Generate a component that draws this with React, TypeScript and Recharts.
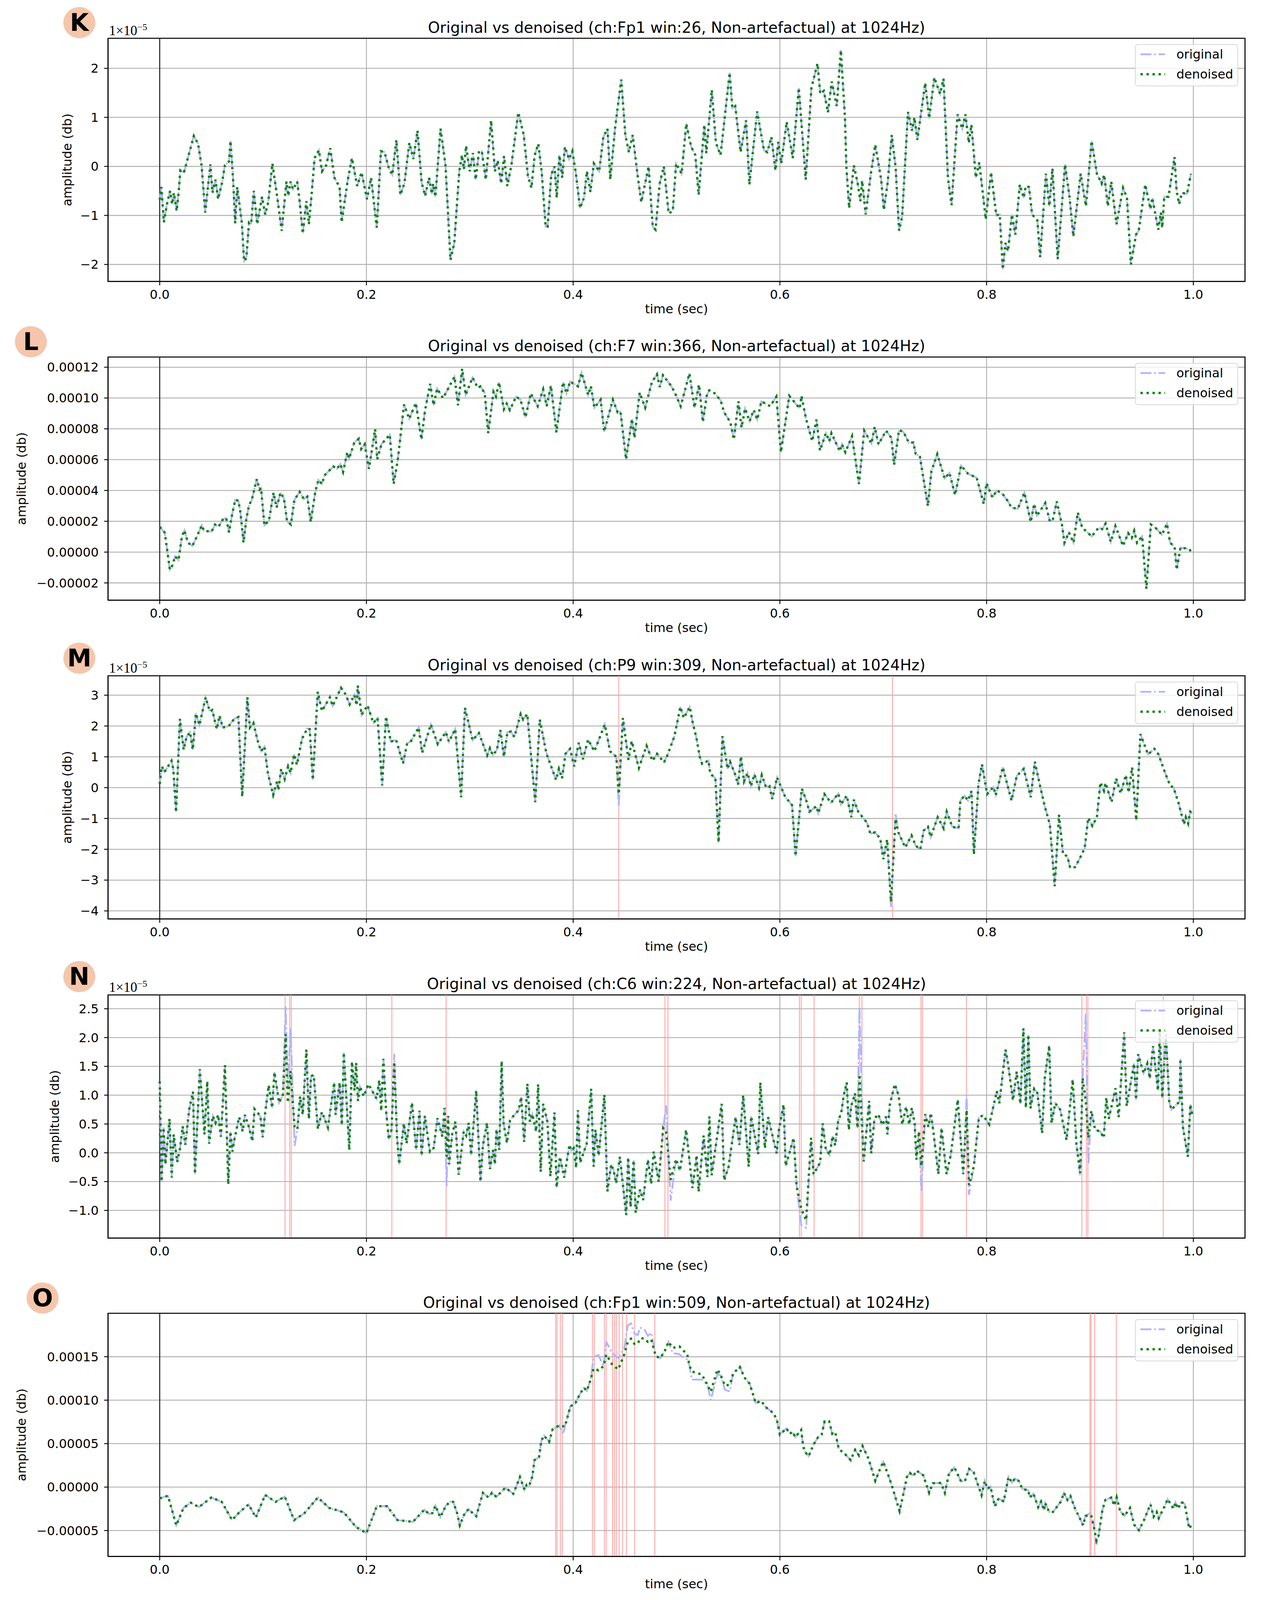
import { CartesianGrid, Legend, Line, LineChart, ReferenceArea, ReferenceLine, XAxis, YAxis } from "recharts";

type Pair = [number, number];

// every amplitude below is in units of 1e-5, [time, amplitude]
const kDenoised: Pair[] = [
  [0,-.68],[.0016,-.42],[.004,-1.14],[.007,-.77],[.01,-.5],[.012,-.77],[.0137,-.54],[.0164,-.91],[.0182,-.55],[.02,-.08],[.0235,-.12],[.033,.62],[.037,.47],[.0405,.02],[.044,-.94],[.049,.04],[.051,-.54],[.054,-.27],[.0565,-.67],[.0605,-.31],[.063,.02],[.067,.1],[.0685,.52],[.071,-.27],[.073,-1.16],[.075,-.42],[.0795,-1.16],[.0816,-1.93],[.0838,-1.87],[.0864,-1.14],[.0885,-1.16],[.091,-.5],[.0943,-1.18],[.099,-.62],[.102,-.98],[.105,-.73],[.109,.06],[.1135,-.6],[.118,-1.31],[.1226,-.31],[.1244,-.6],[.1265,-.31],[.129,-.47],[.133,-.31],[.135,-.64],[.1384,-1.37],[.1419,-.71],[.1443,-1.18],[.147,-.56],[.1498,.17],[.154,.33],[.157,-.1],[.161,.02],[.165,.37],[.169,-.23],[.174,-.42],[.176,-1.14],[.182,-.27],[.186,.17],[.191,-.4],[.1953,-.12],[.2005,-.67],[.2045,-.23],[.21,-1.25],[.214,.31],[.2175,.29],[.2217,-.04],[.225,-.17],[.229,.54],[.2328,-.58],[.2367,-.35],[.2415,.48],[.2454,.15],[.2494,.73],[.2534,-.33],[.2568,-.6],
  [.2606,-.23],[.2632,-.56],[.2645,-.35],[.2667,-.62],[.2717,.77],[.2765,.02],[.2813,-1.91],[.285,-1.56],[.2898,-.1],[.2924,.23],[.2943,-.06],[.2964,.42],[.2999,-.1],[.303,.27],[.3057,-.27],[.3089,.31],[.3116,.31],[.3155,-.27],[.3206,.94],[.3243,-.1],[.327,.12],[.3304,-.35],[.3331,.21],[.3363,-.4],[.3402,.02],[.3469,1.1],[.3522,.64],[.3562,-.19],[.3596,-.44],[.3628,.23],[.3663,.46],[.3695,-.1],[.3734,-1.23],[.3753,-1.23],[.3788,-.17],[.382,0],[.3841,-.64],[.3867,.23],[.3894,-.23],[.392,.4],[.396,.15],[.3992,.31],[.4027,-.15],[.4066,-.85],[.4105,-.64],[.4133,-.1],[.4167,-.52],[.42,.06],[.4252,-.1],[.4292,.6],[.4332,.77],[.4359,-.27],[.4406,.79],[.4465,1.77],[.4505,.64],[.4539,.29],[.4576,.64],[.4624,-.19],[.4659,-.73],[.473,0],[.477,-1.23],[.4797,-1.29],[.4837,-.35],[.4877,0],[.4924,-.96],[.4964,-.91],[.4996,.06],[.5049,-.15],[.5094,.87],[.5142,.4],[.5182,.23],[.5214,-.58],[.5269,.85],[.5288,.27],[.5341,1.56],[.5381,.48],[.5426,.23],[.5514,1.91],[.554,1.19],[.5568,1.23],[.562,.29],[.5673,.94],[.5705,-.37],[.578,1.12],[.5846,.33],[.5878,.29],[.5918,.6],[.5957,-.08],[.5984,.5],[.6013,.06],[.6066,.91],[.6125,.17],[.6183,1.6],[.625,-.27],[.6305,1.6],[.6364,2.1],[.6391,1.48],[.6425,1.54],[.6465,1.1],[.6502,1.73],[.655,1.23],[.659,2.37],[.663,.98],[.6643,0],[.667,-.85],
  [.6716,.02],[.6753,-.35],[.6779,-.71],[.6796,-.29],[.683,-.98],[.688,-.15],[.6923,.44],[.698,-.27],[.7006,-.89],[.7044,-.31],[.7082,.64],[.712,-.02],[.7153,-1.31],[.7183,-1.02],[.7239,1.11],[.7279,.73],[.7302,1],[.733,.54],[.7406,1.7],[.7444,.98],[.7494,1.81],[.755,1.48],[.7583,1.79],[.7626,-.23],[.7661,-.79],[.7719,1.06],[.7765,.77],[.7795,1.06],[.7828,.48],[.7853,.85],[.7896,-.23],[.7929,.08],[.7992,-1.08],[.8043,-.12],[.8094,-1],[.8127,-.98],[.8157,-2.1],[.8182,-1.56],[.8207,-1.73],[.8245,-.98],[.8278,-1.39],[.8321,-.37],[.8359,-.64],[.8379,-.4],[.841,-.42],[.844,-.98],[.8491,-1.1],[.8518,-1.85],[.8574,-.15],[.8607,-.81],[.8637,-.04],[.8688,-1.89],[.8759,.04],[.8802,-.62],[.8839,-1.43],[.891,-.15],[.8961,-.81],[.9016,.52],[.9067,-.15],[.9113,-.35],[.9138,-.17],[.9173,-.81],[.9206,-.31],[.9257,-1.18],[.932,-.44],[.9358,-.64],[.9396,-2],[.9446,-1.39],[.9472,-1.31],[.9535,-.37],[.9585,-.87],[.9603,-.64],[.9661,-1.29],[.9686,-.94],[.9699,-1.25],[.9719,-.62],[.976,-.62],[.9818,.19],[.9838,-.5],[.9863,-.77],[.9889,-.54],[.9939,-.56],[.9977,-.15],
];

const lDenoised: Pair[] = [
  [0,1.64],[.0047,1.28],[.0057,.87],[.0098,-1.14],[.0125,-.84],[.0148,-.27],[.0182,-.51],[.0215,1.02],[.0239,1.41],[.0273,.61],[.0316,.4],[.036,1.02],[.0407,1.74],[.0428,1.38],[.0502,1.33],[.0535,1.79],[.0569,1.64],[.0613,2.15],[.0643,2.21],[.067,1.28],[.0704,2.57],[.0731,3.39],[.0761,3.34],[.0781,2.57],[.0811,.61],[.0838,2.15],[.0865,3.08],[.0889,3.34],[.0939,4.73],[.0966,4.06],[.098,4.16],[.1013,1.74],[.1057,2.05],[.1101,3.86],[.1131,2.88],[.1168,3.86],[.1202,3.49],[.1232,2],[.1269,1.79],[.1303,3.39],[.1354,3.91],[.1394,3.44],[.1428,3.6],[.1461,1.95],[.1505,3.91],[.1535,4.68],[.1569,4.42],[.1596,4.99],[.168,5.56],[.1714,5.4],[.1747,5.71],[.1774,5.2],[.1815,6.48],[.1832,6.07],[.1882,7.1],[.1926,7.36],[.1949,6.69],[.1983,7],[.2024,5.4],[.2084,7.98],[.2104,6.02],[.2145,7],[.2226,7.62],[.2263,4.42],[.2303,5.97],[.2364,9.58],[.2414,8.65],[.2478,9.68],[.2532,7.31],[.2566,9.16],[.2616,10.92],[.265,9.53],[.2684,10.61],[.2741,9.99],[.2852,11.38],[.2886,9.53],[.2926,11.9],[.296,10.2],[.3027,11.33],[.3077,10.66],[.3104,10.76],[.3145,10.3],[.3178,7.72],[.3229,10.4],[.3253,10.09],[.3283,11.02],[.333,9.27],[.3357,9.63],[.3387,9.22],[.3448,10.09],[.349,9.89],[.3539,8.75],[.359,10.3],[.3657,9.47],[.371,10.56],[.3744,9.47],[.3785,10.81],[.3838,7.77],[.3902,11.02],[.3936,10.3],[.397,11.07],[.4047,10.76],[.4081,11.64],[.4145,10.2],[.4172,10.76],[.4205,9.37],[.4266,9.89],[.43,7.82],[.4384,9.89],[.4431,9.06],[.4458,9.11],[.4512,6.02],[.4569,8.65],[.4593,7.41],[.4643,10.35],[.4697,9.37],[.4761,11.02],[.4811,11.54],[.4838,10.71],[.4869,11.48],[.4946,10.81],[.498,10.4],[.504,9.47],[.5125,11.59],
  [.5174,9.37],[.5218,10.87],[.5255,8.44],[.5292,10.14],[.5316,10.5],[.537,10.3],[.5427,9.84],[.5461,9.06],[.552,8.44],[.5555,7.31],[.5599,9.78],[.5629,8.08],[.5663,9.32],[.5707,8.49],[.5747,9.22],[.5781,8.6],[.5821,9.78],[.5906,9.47],[.5966,10.09],[.601,6.48],[.6091,10.14],[.6192,9.32],[.6209,10.14],[.6253,8.65],[.6313,7.2],[.6354,8.6],[.6388,6.59],[.6445,7.72],[.6479,7.2],[.6499,7.72],[.658,6.54],[.66,7],[.6634,6.48],[.6698,7.52],[.6765,4.42],[.6816,7.88],[.6886,7.05],[.6917,8.13],[.6954,7],[.7028,7.88],[.7079,7.41],[.7105,5.66],[.7153,7.93],[.7197,7.78],[.7247,7.11],[.7291,7.11],[.7314,6.38],[.7355,6.18],[.7432,2.98],[.7466,5.25],[.7523,6.36],[.7594,4.78],[.7641,5.14],[.7695,3.7],[.7753,5.61],[.782,5.09],[.7904,4.83],[.7972,3.13],[.7999,4.47],[.8056,3.55],[.81,4.01],[.8157,3.75],[.8208,3.29],[.8241,2.88],[.8302,2.82],[.8366,3.86],[.8427,1.95],[.846,3.13],[.8487,2.36],[.8568,3.19],[.8612,2],[.8639,2.05],[.8679,3.29],[.873,1.74],[.8753,.61],[.8797,1.28],[.8841,.61],[.8882,2.57],[.8925,1.59],[.9017,1.02],[.9084,1.59],[.9118,1.49],[.9151,1.85],[.9202,.66],[.9246,1.69],[.932,.4],[.937,1.23],[.9404,.92],[.9428,1.38],[.9455,.61],[.9505,1.02],[.9546,-2.38],[.9589,1.79],[.964,1.54],[.9697,1.12],[.9745,1.85],[.9775,.61],[.9819,.35],[.9839,-1.14],[.9876,.3],[.996,.2],[.9994,-.11],
];

const mDenoised: Pair[] = [
  [0,.12],[.002,.69],[.0047,.51],[.0114,.87],[.0131,.61],[.0158,-.8],[.0195,2.23],[.0232,1.23],[.0259,1.64],[.0293,1.8],[.032,1.23],[.035,2.41],[.0384,2.03],[.0444,2.93],[.0485,2.47],[.0508,2.52],[.0552,1.9],[.0579,2.34],[.0609,1.95],[.0663,1.98],[.0721,2.23],[.0761,2.29],[.0798,-.29],[.0848,2.93],[.0872,1.95],[.0906,2.1],[.0946,1.54],[.098,1.18],[.1013,1.33],[.1047,.46],[.1098,-.24],[.1135,.2],[.1148,-.08],[.1175,.61],[.1209,.28],[.1242,.69],[.1266,.48],[.13,1.08],[.1327,.74],[.1377,1.59],[.1428,1.92],[.1451,1.9],[.1481,.25],[.1529,3.11],[.1569,2.49],[.1646,2.93],[.1673,2.65],[.1754,3.24],[.1798,3.03],[.1838,2.7],[.1882,3.01],[.1906,2.67],[.1916,3.31],[.1953,2.36],[.201,2.67],[.2067,2.1],[.2108,2.26],[.2152,.07],[.2189,2.31],[.2236,1.49],[.2286,1.56],[.2354,.79],[.2394,1.44],[.2431,1.51],[.2505,1.95],[.2539,1.13],[.2623,2.05],[.269,1.41],[.2768,1.8],[.2798,1.49],[.2859,1.9],[.2916,-.31],[.2953,2.59],[.3027,1.54],[.3088,1.77],[.3168,1.05],[.3195,1.28],[.3222,1.05],[.3263,1.23],[.3296,1.87],[.333,1],[.3364,1.8],[.3397,1.82],[.3431,1.64],[.3492,2.39],[.3516,2.21],[.3556,2.39],[.3633,-.47],[.3677,2.21],[.3734,1.23],[.3751,1.02],[.3835,.25],[.3862,.61],[.3892,.3],[.3926,1.1],[.397,1.26],[.401,.69],[.4054,1.46],[.4094,.92],[.4145,1.56],[.4205,1.18],[.4306,2.05],[.4357,1.18],[.4418,1],[.4441,-.21],[.4481,2.26],[.4535,.9],[.4566,1.51],[.4636,.64],[.471,1.36],[.4768,.87],[.4811,1.1],[.4879,.82],[.4912,1.05],[.498,1.67],[.5037,2.62],[.507,2.26],[.5128,2.62],
  [.5157,2.1],[.5191,1.64],[.5225,1],[.5248,.77],[.5309,.88],[.5326,.46],[.5376,.3],[.5407,-1.78],[.5444,1.67],[.5494,.61],[.5518,.84],[.5562,.48],[.5596,.1],[.5623,1.02],[.5653,.2],[.5687,.48],[.572,.05],[.5754,.43],[.5798,0],[.5825,.41],[.5865,.02],[.5899,.05],[.5926,-.37],[.5973,.33],[.605,-.29],[.6118,-.57],[.6152,-2.22],[.6212,-.03],[.6253,-.39],[.6286,-.78],[.6354,-.6],[.6371,-.83],[.6431,-.21],[.6495,-.49],[.6566,-.19],[.659,-.55],[.6647,-.26],[.6691,-.96],[.6715,-.39],[.6758,-.78],[.6843,-1.14],[.6876,-1.5],[.692,-1.45],[.6971,-1.65],[.7001,-2.32],[.7038,-1.68],[.7075,-3.71],[.7119,-1.01],[.7146,-1.45],[.7213,-1.94],[.7274,-1.55],[.7314,-1.88],[.7358,-2.01],[.7392,-1.39],[.7432,-1.27],[.7459,-1.6],[.7527,-.96],[.7584,-1.32],[.7614,-.78],[.7668,-1.27],[.7729,-1.32],[.7746,-.42],[.7786,-.26],[.782,-.42],[.7854,-.11],[.7877,-2.17],[.7921,.1],[.7955,.76],[.8005,-.21],[.8066,.02],[.8089,-.24],[.8157,.66],[.8241,-.42],[.8292,.38],[.8359,.61],[.8427,-.31],[.8467,.84],[.8511,.15],[.8562,-.6],[.8612,-1.19],[.8659,-3.2],[.87,-.88],[.874,-2.17],[.8781,-2.22],[.8808,-2.6],[.8855,-2.58],[.8898,-2.32],[.8949,-1.96],[.8983,-.98],[.9023,-1.24],[.9067,-.96],[.9101,.17],[.9135,-.1],[.9151,.15],[.9209,-.47],[.9253,.3],[.9297,-.19],[.9347,.41],[.9374,-.16],[.9408,.66],[.9448,-1.06],[.9488,1.74],[.9539,1.28],[.9562,1.08],[.9623,1.26],[.9663,1.08],[.9724,.51],[.9775,.07],[.9809,0],[.9859,-.52],[.991,-1.19],[.9927,-.96],[.995,-1.16],[.997,-.78],[.9994,-.85],
];

const nDenoised: Pair[] = [
  [0,1.24],[.0018,-.5],[.0037,.44],[.0055,-.2],[.0095,.59],[.0116,-.43],[.0135,.32],[.0169,-.16],[.0196,.07],[.0222,.46],[.0248,.14],[.0285,.75],[.0322,1.06],[.0341,-.37],[.0388,1.45],[.0433,.32],[.046,1.24],[.0478,.16],[.0513,.64],[.054,.52],[.0565,.66],[.0592,.28],[.0631,1.52],[.0663,-.55],[.0684,.37],[.0703,.02],[.0724,.25],[.0769,.62],[.0803,.37],[.0824,.66],[.0864,.44],[.0896,.2],[.0917,.76],[.095,.69],[.0975,.62],[.0996,.27],[.1015,.62],[.1054,1.17],[.1088,.78],[.111,1.4],[.1155,.87],[.1192,1.01],[.1218,2.06],[.1239,.87],[.1266,1.42],[.1305,.44],[.1332,.41],[.1358,.98],[.1384,.66],[.1419,1.79],[.1443,.59],[.1464,1.33],[.149,1.35],[.153,.41],[.1569,.71],[.1627,.44],[.1688,1.22],[.1701,.66],[.1741,1.22],[.1762,.48],[.1781,1.74],[.1834,.05],[.186,1.58],[.1885,1.08],[.19,1.56],[.1918,.9],[.1937,1.15],[.1974,.98],[.2019,1.19],[.2098,.94],[.2124,1.26],[.2143,.73],[.2164,1.63],[.219,.73],[.2217,.23],[.2243,.4],[.2269,1.58],[.2296,.27],[.2317,-.2],[.2362,.51],[.2388,.16],[.2441,.87],[.2481,.05],[.2513,.73],[.2534,-.05],[.2565,.64],
  [.2614,.02],[.265,.08],[.2687,.6],[.2735,.28],[.2755,.78],[.2776,-.07],[.2791,.64],[.28,-.2],[.283,.33],[.2861,.54],[.2892,-.38],[.2941,.37],[.2965,.3],[.2989,.52],[.3013,-.04],[.3062,1.08],[.3103,-.5],[.3127,.13],[.3166,.52],[.3195,-.28],[.3226,.05],[.3243,-.2],[.3258,.41],[.3285,.05],[.3308,1.59],[.3327,.51],[.3359,.17],[.3389,.56],[.3412,.62],[.3473,.74],[.3497,.97],[.3526,.19],[.3557,1.2],[.3581,.54],[.3605,.67],[.3642,.37],[.3661,1.19],[.3686,-.33],[.371,.85],[.3751,.54],[.378,-.41],[.3819,.7],[.384,-.6],[.3872,-.07],[.3913,-.43],[.3964,.14],[.3981,.04],[.4005,.08],[.4029,-.26],[.4046,.74],[.4068,-.17],[.4106,.03],[.413,.15],[.4174,1.11],[.4198,-.24],[.4215,.4],[.4247,-.05],[.4302,1.01],[.4331,-.67],[.4368,-.2],[.4392,-.31],[.4416,-.53],[.4452,-.07],[.4513,-1.08],[.4532,-.08],[.4556,-.94],[.4585,-.13],[.4605,-1.04],[.4646,-.64],[.4677,-.82],[.4723,-.12],[.4755,-.54],[.4779,.02],[.4827,-.5],[.4871,.43],[.49,.36],[.4943,-.47],[.4996,-.11],[.5033,-.31],[.5093,.4],[.5154,-.61],[.5195,-.04],[.5214,-.68],[.5262,.3],[.5299,-.42],[.5318,.63],[.534,-.39],[.5437,.85],[.5461,-.48],[.5504,-.24],[.5572,.62],[.5608,.14],[.5645,1],[.5698,-.24],[.5722,.63],[.579,-.02],[.5811,1.22],[.5855,.08],[.5886,.62],[.5969,-.01],[.5988,.37],[.6036,.84],[.6056,-.23],[.6133,.26],[.6162,-.58],[.6206,-.97],[.6254,-1.17],[.6302,.26],[.6326,-.37],
  [.639,-.17],[.6414,.51],[.6443,.08],[.6481,-.04],[.651,.29],[.6534,.13],[.6563,.54],[.6594,.7],[.6618,1],[.6647,1.22],[.6667,.4],[.669,.81],[.6727,1.03],[.6751,.43],[.677,1.36],[.6811,-.15],[.6864,.9],[.6883,-.01],[.6915,.59],[.6951,.67],[.6992,.48],[.7028,.63],[.704,.32],[.7064,.84],[.7112,1.19],[.7148,1],[.7184,.49],[.7221,.8],[.7251,.49],[.7276,.78],[.7304,.51],[.7321,-.12],[.7345,.37],[.7369,-.23],[.7406,.67],[.7437,.45],[.7461,.69],[.7485,.37],[.7533,-.37],[.7564,.43],[.7612,-.37],[.7653,-.04],[.7721,.92],[.7774,-.37],[.7807,.74],[.7829,-.56],[.7877,-.23],[.7925,.61],[.7966,.65],[.8026,.49],[.8099,1.07],[.8123,.86],[.8183,1.79],[.8207,1.55],[.8255,.91],[.8291,1.41],[.8327,.85],[.8356,2.16],[.838,.78],[.8404,2.05],[.8424,.77],[.846,1.11],[.8491,1.04],[.8537,.34],[.8563,1.3],[.8606,1.86],[.8628,.51],[.8664,.86],[.8712,.75],[.8773,.22],[.8833,1.27],[.8869,.15],[.8905,-.35],[.8929,1.3],[.896,.89],[.8984,.26],[.9013,.73],[.905,.4],[.9098,.37],[.9134,.26],[.9158,.96],[.9182,.59],[.9247,1.12],[.9278,.62],[.9331,2.09],[.9355,.81],[.9427,1.55],[.9446,.92],[.9466,1.71],[.9519,1.38],[.9555,1.55],[.9579,1.29],[.961,1.85],[.9658,1.08],[.9675,2.11],[.97,.95],[.9735,2.05],[.9767,.89],[.9788,.75],[.9868,.89],[.9875,1.63],[.9899,.45],[.9947,-.07],[.9971,.84],[.9988,.67],
];

const oDenoised: Pair[] = [
  [0,-1.3],[.008,-1],[.016,-4.4],[.023,-2.4],[.03,-1.8],[.038,-2.3],[.05,-1.2],[.06,-1.7],[.07,-3.8],[.077,-2.9],[.086,-2],[.093,-3.5],[.102,-.9],[.112,-1.7],[.121,-1.1],[.13,-3.8],[.14,-3],[.153,-1.2],[.164,-2.4],[.178,-2.9],[.19,-4.6],[.2,-5.3],[.21,-2.2],[.22,-2.2],[.23,-3.8],[.245,-4],[.256,-2.6],
  [.2606,-3.1],[.2638,-3],[.2667,-2.14],[.2714,-3.47],[.2769,-2.14],[.2812,-1.67],[.284,-1.71],[.2877,-3],[.2903,-4.41],[.2942,-3.24],[.2986,-2.54],[.3062,-3.36],[.3127,-.66],[.3181,-1.2],[.3214,-.66],[.3257,-1.13],[.3344,-.07],[.3421,-.77],[.3485,1.15],[.3529,-.31],[.3551,.28],[.3575,.16],[.3605,1.22],[.3626,3.1],[.367,3.45],[.3692,5.33],[.3718,5.92],[.3768,5.21],[.38,6.62],[.3865,7.09],[.3902,7],[.392,6.97],[.3974,9.32],[.4017,9.55],[.4061,10.61],[.4104,11.43],[.4132,11.08],[.4169,12.37],[.4198,13.66],[.4245,13.43],[.4293,13.9],[.4321,15.23],[.4376,14.13],[.4436,13.54],[.4495,15.3],[.4528,16.71],[.456,17.07],[.4593,16.48],[.4625,16.48],[.4647,17.11],[.469,17.11],[.4723,16.71],[.4756,16.95],[.4799,15.07],[.4843,14.84],[.4886,15.66],[.4923,16.71],[.4962,16.01],[.5027,16.2],[.507,15.66],[.5103,15.3],[.5125,14.01],[.5147,13.31],[.5244,12.96],[.5299,11.78],[.5331,10.96],[.5396,13.54],[.5429,12.84],[.5468,11.67],[.5516,11.78],[.5548,13.08],[.5613,13.83],[.5657,12.61],[.5707,11.9],[.5733,10.96],[.5765,9.67],[.582,9.91],[.5863,9.2],[.5939,8.5],[.5972,7.68],[.6,6.03],
  [.6063,6.76],[.6097,6.12],[.612,6.39],[.6149,5.75],[.6206,6.58],[.6226,4.65],[.6246,4.01],[.6278,3.55],[.6327,4.93],[.637,5.75],[.6404,6.03],[.6433,7.58],[.6476,7.58],[.6507,6.12],[.6536,6.3],[.657,4.38],[.6628,3.83],[.6685,3.1],[.6728,4.29],[.6765,3.64],[.6799,4.74],[.6857,3.28],[.6923,.71],[.6963,1.9],[.7,2.91],[.7049,1.36],[.7086,.07],[.7158,-2.77],[.7192,-.93],[.7229,1.17],[.7258,1.63],[.7292,1.26],[.7321,1.9],[.7387,1.36],[.7444,-.66],[.7479,.44],[.7559,.48],[.7596,-.66],[.7636,1.54],[.7688,2.27],[.7754,.62],[.7794,.81],[.7831,2.09],[.7874,1.72],[.7951,-.93],[.7983,.71],[.8009,-.2],[.8037,.07],[.808,-2.22],[.8117,-1.3],[.8166,-1.67],[.8212,1.17],[.8246,.53],[.8275,.99],[.831,.72],[.8347,-.2],[.8404,-.38],[.8418,-1.21],[.8453,-.75],[.8499,-2.31],[.8527,-1.67],[.8556,-2.67],[.8567,-1.85],[.8605,-2.86],[.8642,-2.86],[.8719,-1.67],[.8748,-.66],[.8782,-1.48],[.8811,-1.03],[.8862,-2.67],[.8891,-3.31],[.8934,-4.41],[.8957,-3.31],[.9011,-3.22],[.904,-4.69],[.9063,-6.15],[.9083,-5.6],[.912,-2.67],[.9149,-1.48],[.9206,-1.21],[.9235,-2.12],[.9258,-1.17],[.9292,-2.77],[.9335,-3.31],[.9387,-2.4],[.9427,-4.32],[.9473,-4.96],[.9521,-3.86],[.9585,-1.98],[.9616,-3.41],[.9645,-2.86],[.9665,-3.59],[.9722,-2.22],[.9751,-1.39],[.9808,-2.49],[.9828,-1.76],[.9851,-2.49],[.9885,-1.72],[.9917,-1.94],[.996,-4.78],[.998,-4.41],
];

// places where the original trace leaves the denoised one
const mOriginalOnly: Pair[] = [[.4441,-.6],[.7075,-3.89],[.7119,-.83]];
const nOriginalOnly: Pair[] = [[.1218,2.54],[.1239,1.1],[.1266,2.16],[.1305,.12],[.2269,1.72],[.2776,-.58],[.49,.82],[.4943,-.83],[.6206,-1.25],[.6254,-1.3],[.677,2.54],[.7369,-.67],[.7807,1],[.7829,-.73],[.8905,-.4],[.896,2.42],[.8984,-.2]];
const oOriginalOnly: Pair[] = [[.3902,6.03],[.4198,14.95],[.4245,15.19],[.4321,16.71],[.4376,15.42],[.4436,14.84],[.4495,16],[.4528,18.59],[.456,18.83],[.4593,17.65],[.4625,17.5],[.4647,18.36],[.469,18.12],[.4723,17.4],[.4756,17.77],[.4962,15.42],[.5027,15.3],[.507,14.84],[.5103,14.7],[.5147,12.37],[.5244,12.37],[.5331,10.02],[.5396,13],[.5468,11.2],[.5516,11],[.9011,-2.95],[.9063,-6.61]];

const mArtefacts = [.4441, .7089];
const nArtefacts = [.1213, .1258, .1273, .2246, .2771, .4888, .4917, .6189, .6206, .6331, .6768, .6794, .7365, .7379, .7805, .8922, .8965, .898, .9709];
const oArtefacts = [.3831, .3844, .3876, .3894, .4187, .4204, .4302, .4319, .4382, .44, .4417, .4445, .4478, .4515, .4595, .479, .9, .9011, .9046, .9255];

const timeTicks = [0, 0.2, 0.4, 0.6, 0.8, 1];
const kTicks = [-2, -1, 0, 1, 2];
const lTicks = [-2, 0, 2, 4, 6, 8, 10, 12];
const mTicks = [-4, -3, -2, -1, 0, 1, 2, 3];
const nTicks = [-1, -0.5, 0, 0.5, 1, 1.5, 2, 2.5];
const oTicks = [-5, 0, 5, 10, 15];

const FONT = "'DejaVu Sans', sans-serif";
const PAGE_H = 4751;
// the figure is 4751 tall; a shorter window (the sandbox stops at 4096) tightens
// the vertical layout so panel O stays on screen. x positions and fonts don't change.
const FIT = Math.min(1, window.innerHeight / PAGE_H);
const PLOT_LEFT = 276.5;
const PLOT_RIGHT = 3186.5;
const PLOT_H = 722 * FIT;
const ABOVE = 100;
const BELOW = 110;
const ORIGINAL_DASH = "28 7 4.4 7";
const DENOISED_DASH = "5.8 9.6";

const minus = (s: string) => s.replace("-", "\u2212");
const plain = (v: number) => minus(String(v));
const oneDec = (v: number) => minus(v.toFixed(1));
const scaled = (v: number) => minus((v * 1e-5).toFixed(5));

function buildRows(denoised: Pair[], originalOnly: Pair[] = []) {
  const spikes = new Map(originalOnly);
  return denoised.map(([t, v]) => ({ t, denoised: v, original: spikes.has(t) ? spikes.get(t) : v }));
}

function LegendBox() {
  const row = (label: string, stroke: string, dash: string, w: number, y: number) => (
    <div style={{ position: "absolute", left: 0, top: y, width: 264, height: 40 }}>
      <svg width={70} height={40} style={{ position: "absolute", left: 12, top: 0 }}>
        <line x1={0} x2={63} y1={20} y2={20} stroke={stroke} strokeWidth={w} strokeDasharray={dash} />
      </svg>
      <span style={{ position: "absolute", left: 104, top: 1, fontSize: 32, lineHeight: "38px", color: "#000" }}>{label}</span>
    </div>
  );
  return (
    <div style={{ position: "relative", width: 264, height: 108, boxSizing: "border-box", border: "2px solid #d8d8d8", borderRadius: 7, background: "rgba(255,255,255,0.8)" }}>
      {row("original", "#b3b3ff", ORIGINAL_DASH, 4.6, 4)}
      {row("denoised", "#008000", DENOISED_DASH, 5.8, 55)}
    </div>
  );
}

function Panel(props: {
  top: number;
  title: string;
  letter: string;
  badge: number[];
  labelX: number;
  offset?: boolean;
  domain: [number, number];
  ticks: number[];
  format: (v: number) => string;
  rows: { t: number; denoised: number; original?: number }[];
  artefacts?: number[];
}) {
  const { title, letter, badge, labelX, offset, domain, ticks, format, rows, artefacts = [] } = props;
  const top = props.top * FIT;
  const badgeY = badge[1] * FIT;
  const xDomain: [number, number] = [-0.05, 1.05];
  return (
    <>
      <div style={{ position: "absolute", left: badge[0] - 41, top: badgeY - 40, width: 82, height: 80, borderRadius: "50%", background: "#f5c6ab", textAlign: "center", fontFamily: FONT, fontWeight: 700, fontSize: 62, lineHeight: "80px", color: "#000" }}>
        {letter}
      </div>
      <div style={{ position: "absolute", left: PLOT_LEFT, width: PLOT_RIGHT - PLOT_LEFT, top: top - 32 * FIT - 22, textAlign: "center", fontFamily: FONT, fontSize: 39, lineHeight: "44px", color: "#000", whiteSpace: "nowrap" }}>
        {title}
      </div>
      {offset && (
        <div style={{ position: "absolute", left: 279, top: top - 22 * FIT - 20, fontFamily: "'Liberation Serif', serif", fontSize: 35, lineHeight: "40px", color: "#000" }}>
          1×10<sup style={{ fontSize: 24, lineHeight: 0 }}>−5</sup>
        </div>
      )}
      <div style={{ position: "absolute", left: 0, top: top - ABOVE, fontFamily: FONT }}>
        <LineChart
          width={3230}
          height={PLOT_H + ABOVE + BELOW}
          data={rows}
          margin={{ left: PLOT_LEFT - 100, right: 3230 - PLOT_RIGHT, top: ABOVE, bottom: 0 }}
        >
          <CartesianGrid stroke="#b0b0b0" strokeWidth={2.3} />
          <XAxis
            dataKey="t"
            type="number"
            domain={xDomain}
            ticks={timeTicks}
            interval={0}
            height={BELOW}
            allowDataOverflow
            tickFormatter={oneDec}
            tick={{ fontSize: 32, fill: "#000" }}
            tickSize={10}
            tickMargin={37 * FIT - 20}
            stroke="#000"
            strokeWidth={2.3}
            label={{
              content: ({ viewBox }: any) => (
                <text x={viewBox.x + viewBox.width / 2} y={ABOVE + PLOT_H + 95 * FIT} textAnchor="middle" fontSize={32} fill="#000">
                  time (sec)
                </text>
              ),
            }}
          />
          <YAxis
            type="number"
            domain={domain}
            ticks={ticks}
            interval={0}
            width={100}
            allowDataOverflow
            tickFormatter={format}
            tick={{ fontSize: 32, fill: "#000" }}
            tickSize={10}
            tickMargin={14}
            stroke="#000"
            strokeWidth={2.3}
            label={{
              content: () => (
                <text transform={`translate(${labelX},${ABOVE + PLOT_H / 2}) rotate(-90)`} dy={11} textAnchor="middle" fontSize={32} fill="#000">
                  amplitude (db)
                </text>
              ),
            }}
          />
          <ReferenceArea x1={xDomain[0]} x2={xDomain[1]} y1={domain[0]} y2={domain[1]} fill="none" stroke="#000" strokeWidth={2.6} />
          <ReferenceLine x={0} stroke="#222" strokeWidth={2.6} />
          {artefacts.map((t) => (
            <ReferenceLine key={t} x={t} stroke="#ff9c9c" strokeWidth={2} />
          ))}
          <Line dataKey="original" name="original" type="linear" stroke="#b3b3ff" strokeWidth={4.6} strokeDasharray={ORIGINAL_DASH} dot={false} activeDot={false} isAnimationActive={false} />
          <Line dataKey="denoised" name="denoised" type="linear" stroke="#008000" strokeWidth={5.8} strokeDasharray={DENOISED_DASH} dot={false} activeDot={false} isAnimationActive={false} />
          <Legend
            layout="vertical"
            align="center"
            verticalAlign="middle"
            wrapperStyle={{ position: "absolute", left: 2905, top: ABOVE + 17 * FIT, width: 264, height: 108, margin: 0 }}
            content={() => <LegendBox />}
          />
        </LineChart>
      </div>
    </>
  );
}

export default function App() {
  return (
    <div style={{ position: "relative", margin: "-8px 0 -8px -8px", width: 3230, height: PAGE_H * FIT, background: "#fff", overflow: "hidden" }}>
      <Panel top={114} letter="K" badge={[203, 67]} labelX={172} offset title="Original vs denoised (ch:Fp1 win:26, Non-artefactual) at 1024Hz)" domain={[-2.346, 2.613]} ticks={kTicks} format={plain} rows={buildRows(kDenoised)} />
      <Panel top={1060} letter="L" badge={[79, 1015]} labelX={55} title="Original vs denoised (ch:F7 win:366, Non-artefactual) at 1024Hz)" domain={[-3.12, 12.66]} ticks={lTicks} format={scaled} rows={buildRows(lDenoised)} />
      <Panel top={2007} letter="M" badge={[203, 1954]} labelX={172} offset title="Original vs denoised (ch:P9 win:309, Non-artefactual) at 1024Hz)" domain={[-4.26, 3.63]} ticks={mTicks} format={plain} rows={buildRows(mDenoised, mOriginalOnly)} artefacts={mArtefacts} />
      <Panel top={2954} letter="N" badge={[203, 2900]} labelX={140} offset title="Original vs denoised (ch:C6 win:224, Non-artefactual) at 1024Hz)" domain={[-1.48, 2.74]} ticks={nTicks} format={oneDec} rows={buildRows(nDenoised, nOriginalOnly)} artefacts={nArtefacts} />
      <Panel top={3900} letter="O" badge={[109, 3854]} labelX={55} title="Original vs denoised (ch:Fp1 win:509, Non-artefactual) at 1024Hz)" domain={[-7.98, 20]} ticks={oTicks} format={scaled} rows={buildRows(oDenoised, oOriginalOnly)} artefacts={oArtefacts} />
    </div>
  );
}
